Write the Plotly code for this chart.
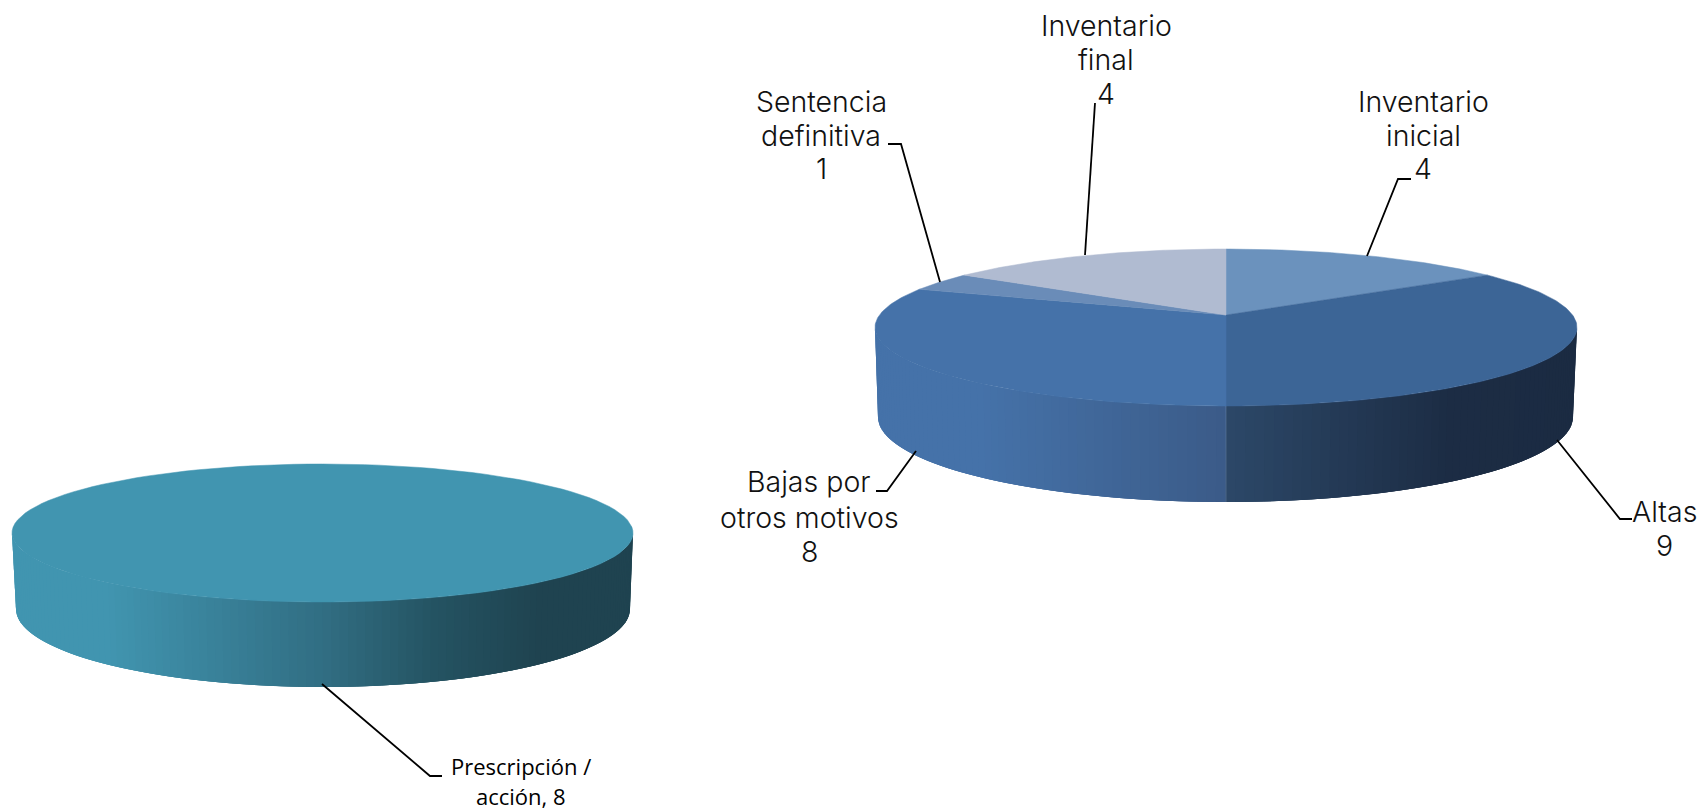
import numpy as np
import plotly.graph_objects as go

# ---------- data ----------
right_categories = ["Inventario inicial", "Altas", "Bajas por otros motivos", "Sentencia definitiva", "Inventario final"]
right_values = [4, 9, 8, 1, 4]
left_categories = ["Prescripción / acción"]
left_values = [8]

# ---------- style ----------
right_top_colors = ["#6b92bd", "#3c6596", "#4572a9", "#6a8cb8", "#b0bbd1"]
left_top_colors = ["#4195b0"]
right_wall_stops = [(0.0, "#4572a9"), (0.15, "#4572a9"), (0.4999, "#3b5b88"),
                    (0.5001, "#2c4868"), (0.82, "#1c2c44"), (1.0, "#1b2b42")]
left_wall_stops = [(0.0, "#4195b0"), (0.15, "#4195b0"), (0.5, "#316e83"),
                   (0.68, "#245362"), (0.85, "#1f4350"), (1.0, "#1f4350")]

RIGHT_GEOM = dict(cx=1226, hw=351, far=249, near=406, b_cx=1225.5, b_hw=347.5, b_far=332, b_near=502, k=0.159)
LEFT_GEOM = dict(cx=322.5, hw=310.5, far=464, near=602, b_cx=323, b_hw=307, b_far=531, b_near=687, k=0.151)

LABEL_FONT = "Inter"
LABEL_SIZE = 28.5
LABEL_WEIGHT = 300
labels = [
    (["Inventario", "final", "4"], 1106, [25, 59, 93]),
    (["Inventario", "inicial", "4"], 1423, [101, 135, 168]),
    (["Sentencia", "definitiva", "1"], 821, [101, 135, 168]),
    (["Bajas por", "otros motivos", "8"], 809, [481, 517, 551]),
    (["Altas", "9"], 1664, [511, 545]),
]
small_label = (["Prescripción /", "acción, 8"], 521, [766, 796])
leaders = [
    [(1367, 256), (1398, 179), (1411, 179)],
    [(1085, 255), (1095, 103)],
    [(940, 282), (901, 144), (888, 144)],
    [(916, 451), (887, 491), (876, 491)],
    [(1557, 440), (1620, 519), (1632, 519)],
    [(322, 684), (430, 776), (442, 776)],
]


def projector(cx, hw, far, near, k):
    s = near - far
    up = s * (1 - k) / 2
    h = s * (1 - k * k) / 2
    y0 = far + up
    r = hw * np.sqrt(1 - k * k)

    def project(a):
        a = np.radians(a)
        X, Y = np.sin(a), np.cos(a)
        f = 1 / (1 + k * Y)
        return cx + r * X * f, y0 - h * Y * f

    return project, (cx, y0)


def hex_rgb(c):
    return np.array([int(c[i:i + 2], 16) for i in (1, 3, 5)], float)


def ramp(stops, t):
    fr = [s[0] for s in stops]
    cols = np.array([hex_rgb(s[1]) for s in stops])
    rgb = [np.interp(t, fr, cols[:, i]) for i in range(3)]
    return "rgb(%d,%d,%d)" % tuple(round(v) for v in rgb)


def poly(fig, xs, ys, color, edge=0.0):
    fig.add_trace(go.Scatter(x=list(xs), y=list(ys), mode="lines", fill="toself", fillcolor=color,
                             line=dict(color=color, width=edge), hoverinfo="skip", showlegend=False))


def draw_pie(fig, values, top_colors, wall_stops, g):
    top, apex = projector(g["cx"], g["hw"], g["far"], g["near"], g["k"])
    bot, _ = projector(g["b_cx"], g["b_hw"], g["b_far"], g["b_near"], g["k"])
    edges = np.cumsum([0] + list(values)) / sum(values) * 360
    wall_lo = 90 + np.degrees(np.arcsin(g["k"]))
    wall_hi = 360 - wall_lo
    left, right = g["cx"] - g["hw"], g["cx"] + g["hw"]
    # walls: each strip runs under the next one, so no hairline shows between them
    angs = np.linspace(wall_lo, wall_hi, 121)
    for i in range(len(angs) - 1):
        a_span = np.linspace(angs[i], angs[min(i + 3, len(angs) - 1)], 6)
        xt, yt = top(a_span)
        xb, yb = bot(a_span[::-1])
        xm = top((angs[i] + angs[i + 1]) / 2)[0]
        t = (xm - left) / (right - left)
        poly(fig, np.r_[xt, xb, xt[0]], np.r_[yt, yb, yt[0]], ramp(wall_stops, t))
    # top surface
    for i, c in enumerate(top_colors):
        a = np.linspace(edges[i], edges[i + 1], 120)
        x, y = top(a)
        if len(values) == 1:
            poly(fig, x, y, c, 0.5)
        else:
            poly(fig, np.r_[apex[0], x, apex[0]], np.r_[apex[1], y, apex[1]], c, 0.5)


fig = go.Figure()
draw_pie(fig, left_values, left_top_colors, left_wall_stops, LEFT_GEOM)
draw_pie(fig, right_values, right_top_colors, right_wall_stops, RIGHT_GEOM)

# light seam on the wall between the two large slices
_t, _ = projector(RIGHT_GEOM["cx"], RIGHT_GEOM["hw"], RIGHT_GEOM["far"], RIGHT_GEOM["near"], RIGHT_GEOM["k"])
_b, _ = projector(RIGHT_GEOM["cx"], RIGHT_GEOM["hw"], RIGHT_GEOM["b_far"], RIGHT_GEOM["b_near"], RIGHT_GEOM["k"])
_a = sum(right_values[:2]) / sum(right_values) * 360
fig.add_trace(go.Scatter(x=[_t(_a)[0], _b(_a)[0]], y=[_t(_a)[1], _b(_a)[1]], mode="lines",
                         line=dict(color="rgba(150,175,205,0.30)", width=1), hoverinfo="skip", showlegend=False))

for pts in leaders:
    fig.add_trace(go.Scatter(x=[p[0] for p in pts], y=[p[1] for p in pts], mode="lines",
                             line=dict(color="#000000", width=1.8), hoverinfo="skip", showlegend=False))

annotations = []
for lines, x, ys in labels:
    for t, y in zip(lines, ys):
        annotations.append(dict(text=t, x=x, y=y, xref="x", yref="y", showarrow=False, xanchor="center",
                                yanchor="middle", align="center",
                                font=dict(family=LABEL_FONT, size=LABEL_SIZE, weight=LABEL_WEIGHT, color="#111111")))
for t, y in zip(small_label[0], small_label[2]):
    annotations.append(dict(text=t, x=small_label[1], y=y, xref="x", yref="y", showarrow=False, xanchor="center",
                            yanchor="middle", align="center",
                            font=dict(family="Open Sans", size=22, color="#000000")))

fig.update_layout(
    width=1702, height=812, margin=dict(l=0, r=0, t=0, b=0, pad=0),
    paper_bgcolor="white", plot_bgcolor="white", showlegend=False, annotations=annotations,
    xaxis=dict(range=[0, 1702], visible=False, fixedrange=True),
    yaxis=dict(range=[812, 0], visible=False, fixedrange=True),
)
fig.write_html("out.html", config={"displayModeBar": False},
               post_script="document.body.style.margin='0';")
